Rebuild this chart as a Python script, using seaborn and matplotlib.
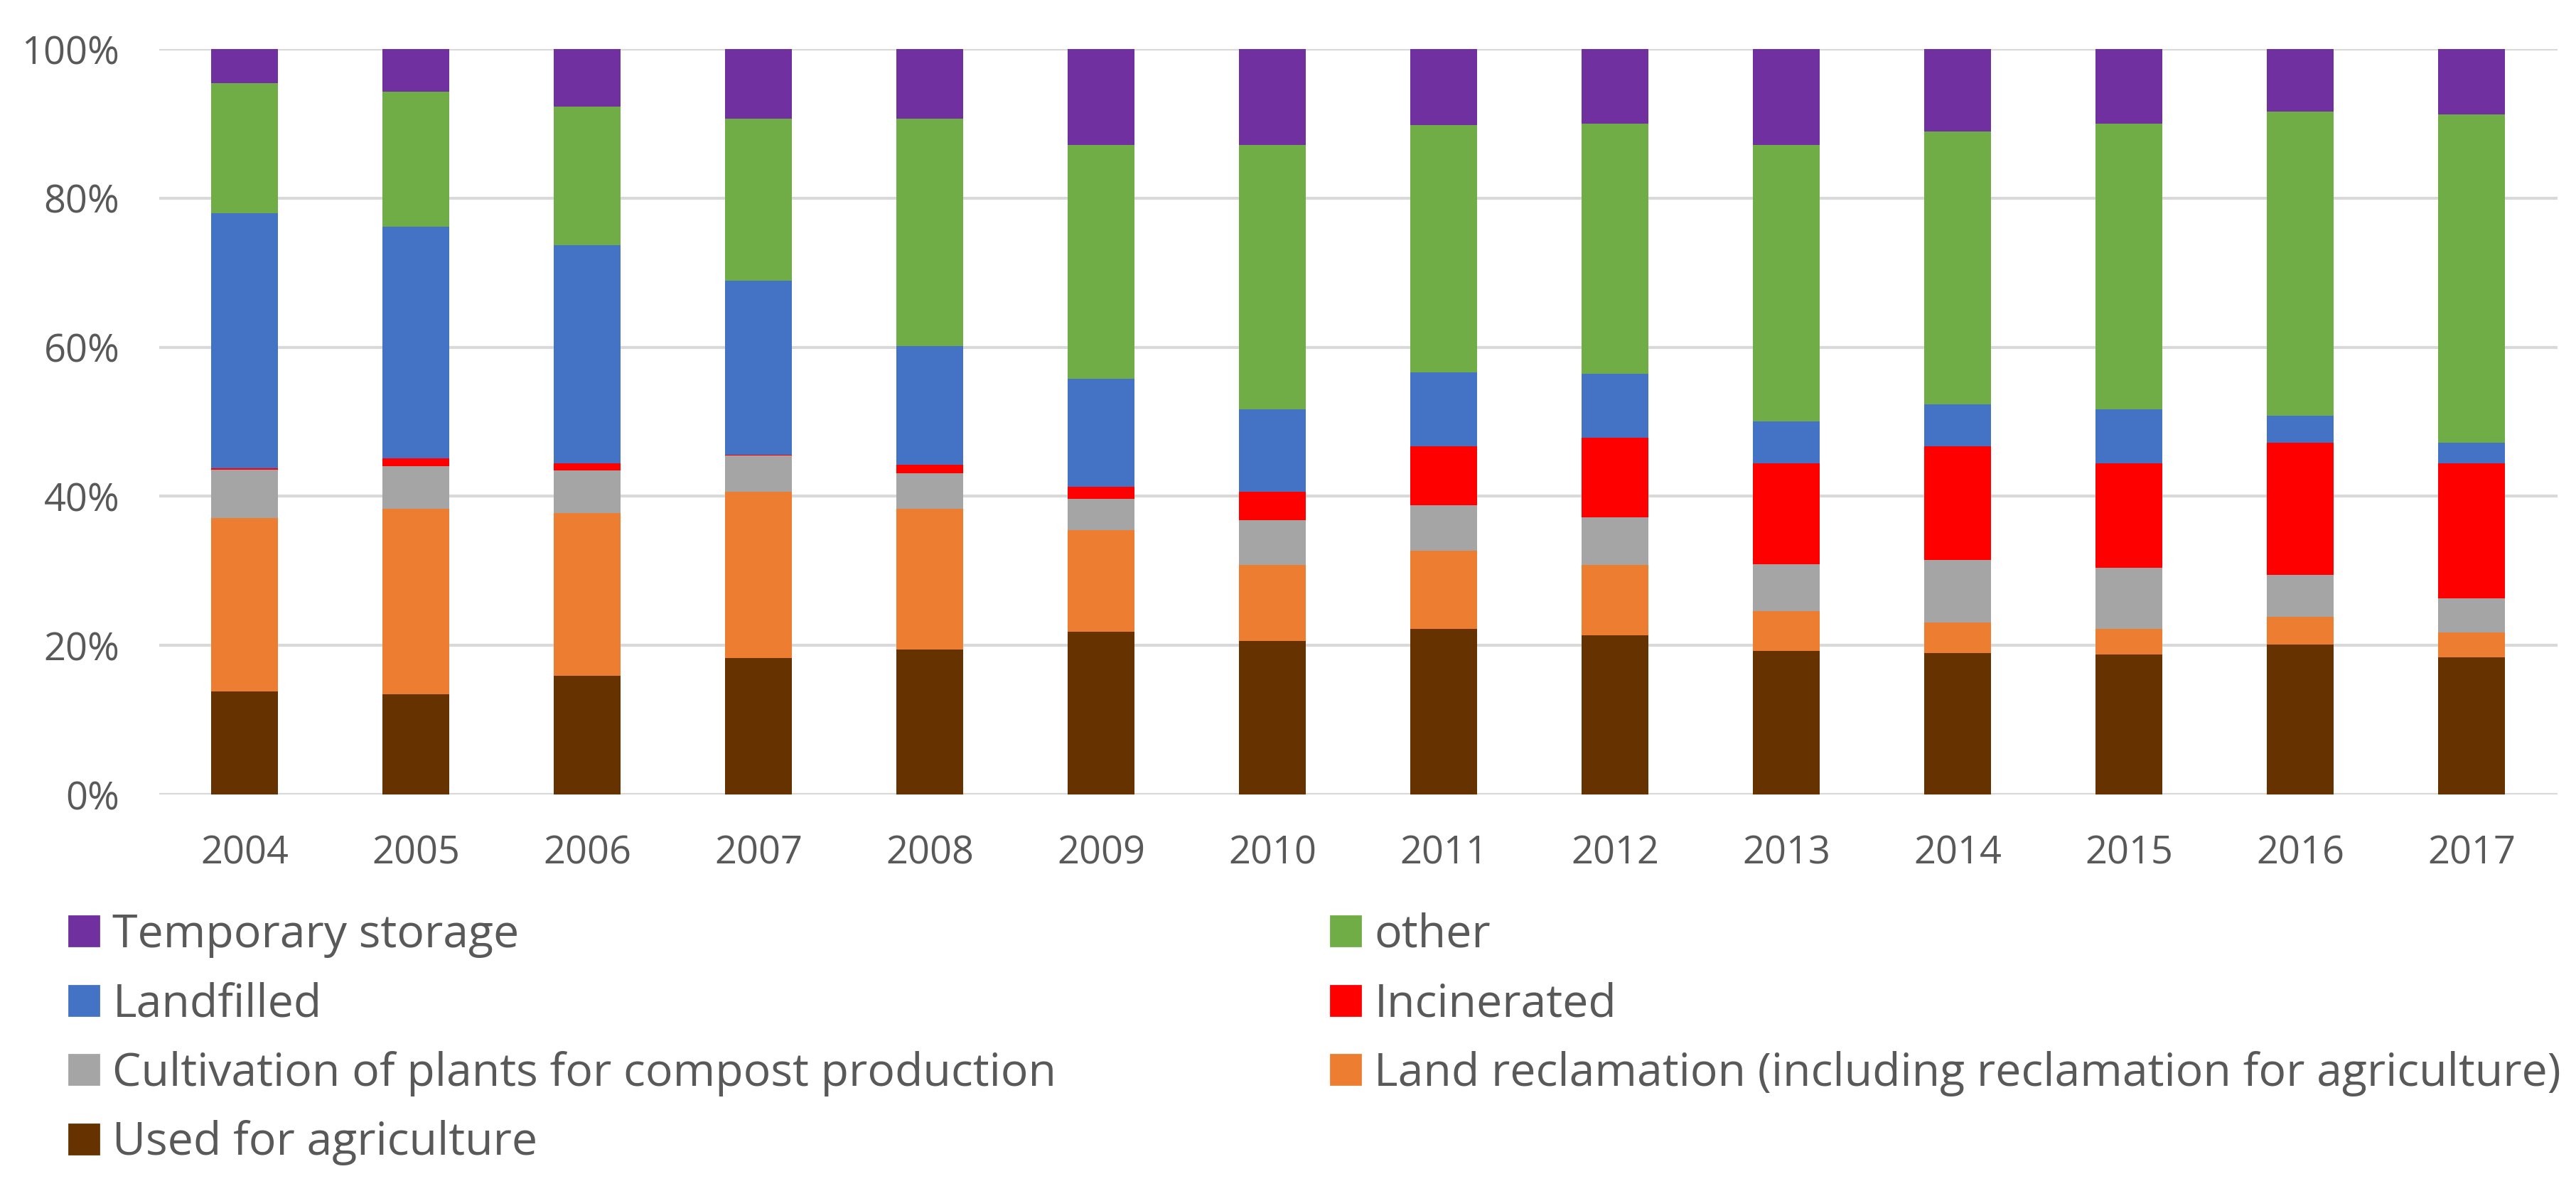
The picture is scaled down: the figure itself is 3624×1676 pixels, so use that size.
import pandas as pd
import matplotlib.pyplot as plt
import matplotlib.patches as mpatches
from matplotlib.ticker import PercentFormatter
import seaborn as sns

# ---------- data (shares in %) ----------
years = list(range(2004, 2018))

temporary_storage = [4.6, 5.7, 7.7, 9.3, 9.3, 12.9, 12.9, 10.2, 10.0, 12.9, 11.1, 10.0, 8.4, 8.8]
other = [17.4, 18.1, 18.6, 21.8, 30.5, 31.3, 35.4, 33.2, 33.6, 37.0, 36.6, 38.3, 40.8, 44.0]
landfilled = [34.2, 31.1, 29.3, 23.3, 16.0, 14.5, 11.1, 9.9, 8.5, 5.7, 5.6, 7.3, 3.6, 2.8]
incinerated = [0.2, 1.1, 0.9, 0.1, 1.1, 1.6, 3.8, 7.9, 10.7, 13.5, 15.2, 14.0, 17.7, 18.1]
cultivation = [6.5, 5.7, 5.7, 4.9, 4.8, 4.2, 6.0, 6.1, 6.4, 6.3, 8.4, 8.2, 5.7, 4.6]
land_reclamation = [23.3, 24.9, 21.9, 22.3, 18.8, 13.7, 10.2, 10.5, 9.4, 5.3, 4.1, 3.4, 3.7, 3.3]
agriculture = [13.8, 13.4, 15.9, 18.3, 19.5, 21.8, 20.6, 22.2, 21.4, 19.3, 19.0, 18.8, 20.1, 18.4]

# top of stack first (seaborn stacks first hue level on top)
categories = [
    "Temporary storage",
    "other",
    "Landfilled",
    "Incinerated",
    "Cultivation of plants for compost production",
    "Land reclamation (including reclamation for agriculture)",
    "Used for agriculture",
]
series = [temporary_storage, other, landfilled, incinerated, cultivation,
          land_reclamation, agriculture]
colors = ["#7030A0", "#70AD47", "#4472C4", "#FF0000", "#A5A5A5", "#ED7D31", "#663300"]

rows = []
for cat, vals in zip(categories, series):
    for y, v in zip(years, vals):
        rows.append({"year": y, "category": cat, "share": v})
df = pd.DataFrame(rows)

# ---------- style ----------
sns.set_theme(style="white")
plt.rcParams["font.family"] = ["Open Sans", "DejaVu Sans"]
text_col = "#595959"

fig = plt.figure(figsize=(18.12, 8.38), dpi=200)
ax = fig.add_axes([0.0618, 0.3329, 0.931, 0.6259])

sns.histplot(
    data=df, x="year", weights="share", hue="category",
    hue_order=categories, palette=colors,
    multiple="fill", discrete=True, shrink=0.39,
    alpha=1, linewidth=0, legend=False, ax=ax,
)

ax.set_xlim(2003.5, 2017.5)
ax.set_ylim(0, 1)
ax.set_yticks([0, 0.2, 0.4, 0.6, 0.8, 1.0])
ax.yaxis.set_major_formatter(PercentFormatter(1.0, decimals=0))
ax.set_xticks(years)
ax.set_xticklabels([str(y) for y in years])
ax.set_xlabel("")
ax.set_ylabel("")
ax.grid(axis="y", color="#d9d9d9", linewidth=1.5)
ax.set_axisbelow(True)
for s in ax.spines.values():
    s.set_visible(False)
ax.tick_params(axis="both", length=0, labelsize=19.5, colors=text_col)
ax.tick_params(axis="y", pad=20)
ax.tick_params(axis="x", pad=20)

# ---------- legend (row-wise order, two columns) ----------
handles = {c: mpatches.Patch(color=col, label=c) for c, col in zip(categories, colors)}
left_col = ["Temporary storage", "Landfilled",
            "Cultivation of plants for compost production", "Used for agriculture"]
right_col = ["other", "Incinerated",
             "Land reclamation (including reclamation for agriculture)"]

leg_kw = dict(loc="upper left", frameon=False, fontsize=23.2, labelcolor=text_col,
              handlelength=0.65, handleheight=0.62, handletextpad=0.3,
              labelspacing=0.52, borderpad=0, borderaxespad=0)
fig.legend(handles=[handles[c] for c in left_col], labels=left_col,
           bbox_to_anchor=(0.0268, 0.234), **leg_kw)
fig.legend(handles=[handles[c] for c in right_col], labels=right_col,
           bbox_to_anchor=(0.5166, 0.234), **leg_kw)

fig.savefig("out.png", dpi=200, facecolor="white")
